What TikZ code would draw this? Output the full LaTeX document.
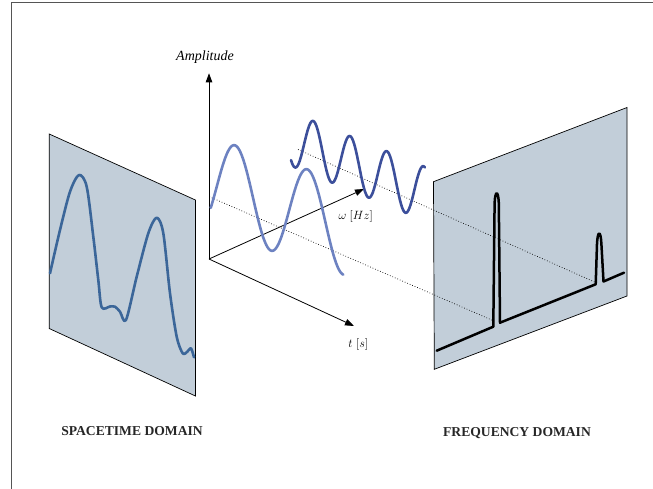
\documentclass[tikz,border=0pt]{standalone}
\usepackage{fontspec}
\newfontfamily\lblfont{Liberation Serif}
\usetikzlibrary{arrows.meta}
\definecolor{panelfill}{HTML}{C2CED9}
\definecolor{leftwave}{HTML}{3B6699}
\definecolor{lightwave}{HTML}{6D82C1}
\definecolor{darkwave}{HTML}{3C4F9B}
\definecolor{framecol}{HTML}{555555}
\begin{document}
\begin{tikzpicture}[x=1pt,y=-1pt,
  panel/.style={draw=black,line width=0.7pt,fill=panelfill},
  axis/.style={line width=0.8pt,-{Triangle[length=9pt,width=6.5pt]}},
  guide/.style={dotted,line width=0.7pt},
  lbl/.style={font=\fontsize{13}{15}\selectfont,inner sep=1pt},
  domlbl/.style={font=\lblfont\fontsize{13.6}{15}\selectfont\bfseries,inner sep=1pt,text=black!85},
  wave/.style={line width=2.6pt,line cap=round,line join=round}]
\useasboundingbox (0,0) rectangle (653,489);
% frame
\draw[framecol,line width=1pt] (11.3,489) -- (11.3,2.8) -- (653,2.8);
% panels
\draw[panel] (49.2,134) -- (195.4,200) -- (195.4,396) -- (49.2,328.5) -- cycle;
\draw[panel] (433.5,181.7) -- (627,107.5) -- (627,296) -- (434.3,369.3) -- cycle;
% left signal
\draw[wave,leftwave] plot[smooth,tension=0.5] coordinates {
 (50,273.3) (60,230) (70,191.7) (79,175) (86.7,186.7) (93.3,236.7) (98.3,280)
 (101.7,307.3) (110,306.5) (115,306.7) (120,311.7) (126,320) (136.7,276.7)
 (148.3,233.3) (156.7,217.7) (163.3,233.3) (170,293.3) (176.7,336.7)
 (182.7,353.3) (187.3,351.7) (191,348.3) (194,357.3)};
% right spectrum
\draw[line width=2.5pt,line join=round,line cap=round] (436.7,350.7) -- (493.3,326.7)
  -- (494.6,203) .. controls (495.2,190) and (498.2,190) .. (498.8,203)
  -- (500,322.7) -- (595.7,284.3)
  -- (597,244) .. controls (597.6,230) and (600.8,230) .. (601.4,244)
  -- (603.5,281.5) -- (624,272.7);
% axes
\coordinate (O) at (209,259);
\coordinate (A) at (209,73.3);
\coordinate (W) at (364,189);
\coordinate (T) at (354,326);
\draw[axis] (O) -- (A);
\draw[axis] (O) -- (W);
\draw[axis] (O) -- (T);
% guides
\coordinate (g1s) at (209.3,196.7);
\coordinate (g1e) at (494,321);
\coordinate (g2s) at (298,149.5);
\coordinate (g2e) at (595.7,282.5);
\draw[guide] (g1s) -- (g1e);
\draw[guide] (g2s) -- (g2e);
% waves
\draw[wave,lightwave] plot[domain=210.7:343.3,samples=120]
  (\x,{192+0.332*(\x-235)-46.7*cos((\x-235)/72.3*360)});
\draw[wave,darkwave] plot[domain=291:425,samples=140]
  (\x,{148+0.41*(\x-313.3)-27*cos((\x-313.3)/36.8*360)});
% labels
\node[lbl,font=\lblfont\fontsize{14}{16}\selectfont\itshape] (amp) at (205,57) {Amplitude};
\node[lbl] (wlab) at (355.7,216) {$\omega\;[Hz]$};
\node[lbl] (tlab) at (358.3,344) {$t\;[s]$};
\node[domlbl] (sd) at (132,431) {SPACETIME DOMAIN};
\node[domlbl] (fd) at (517,433) {FREQUENCY DOMAIN};
\end{tikzpicture}
\end{document}
